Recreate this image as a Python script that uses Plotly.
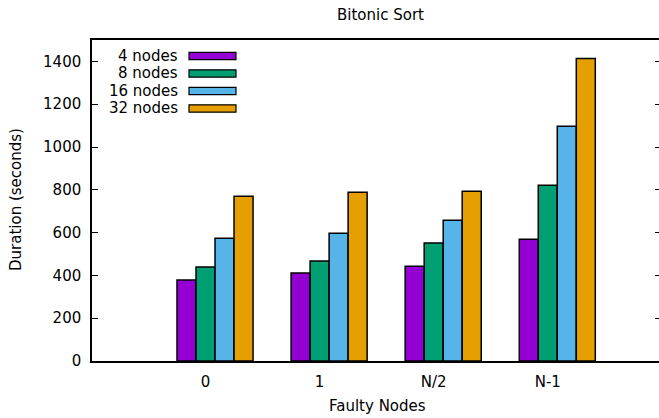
import plotly.graph_objects as go

categories = ["0", "1", "N/2", "N-1"]
series_names = ["4 nodes", "8 nodes", "16 nodes", "32 nodes"]
nodes4 = [378, 411, 443, 569]
nodes8 = [439, 467, 551, 821]
nodes16 = [574, 597, 658, 1097]
nodes32 = [770, 789, 793, 1414]
series_values = [nodes4, nodes8, nodes16, nodes32]
colors = ["#9400D3", "#009E73", "#56B4E9", "#E69F00"]
y_ticks = [0, 200, 400, 600, 800, 1000, 1200, 1400]

FONT = "DejaVu Sans"
FS = 15
bw = 1 / 6
W, H = 659, 418
L, R, T, B = 92, 0, 40, 57
PW, PH = W - L - R, H - T - B

fig = go.Figure()
for i, (name, vals) in enumerate(zip(series_names, series_values)):
    fig.add_trace(go.Bar(
        x=[k + (i - 1) * bw for k in range(len(categories))],
        y=vals,
        width=bw,
        name=name,
        marker=dict(color=colors[i], line=dict(color="black", width=1.5)),
        showlegend=False,
    ))

# dummy trace to activate the mirrored right-hand tick axis
fig.add_trace(go.Scatter(x=[0], y=[0], yaxis="y2", mode="markers",
                         marker=dict(opacity=0), showlegend=False, hoverinfo="skip"))


def px(x):
    return (x - L) / PW


def py(y):
    return 1 - (y - T) / PH


# manual legend (text left of swatch, gnuplot style)
row_y = [56, 73.5, 91, 108.5]
for i, name in enumerate(series_names):
    fig.add_annotation(xref="paper", yref="paper", x=px(180), y=py(row_y[i]),
                       text=name, showarrow=False, xanchor="right", yanchor="middle",
                       font=dict(family=FONT, size=FS, color="black"))
    fig.add_shape(type="rect", xref="paper", yref="paper",
                  x0=px(189), x1=px(236),
                  y0=py(row_y[i] + 3.7), y1=py(row_y[i] - 3.7),
                  fillcolor=colors[i], line=dict(color="black", width=1.2))

fig.add_annotation(xref="paper", yref="paper", x=px(377), y=py(406),
                   text="Faulty Nodes", showarrow=False, xanchor="center", yanchor="middle",
                   font=dict(family=FONT, size=FS, color="black"))
fig.add_annotation(xref="paper", yref="paper", x=px(16), y=py(200),
                   text="Duration (seconds)", showarrow=False, textangle=-90,
                   xanchor="center", yanchor="middle",
                   font=dict(family=FONT, size=FS, color="black"))
fig.add_annotation(xref="paper", yref="paper", x=px(380), y=py(15),
                   text="Bitonic Sort", showarrow=False, xanchor="center", yanchor="middle",
                   font=dict(family=FONT, size=FS, color="black"))

fig.update_layout(
    width=W, height=H,
    margin=dict(l=L, r=R, t=T, b=B, autoexpand=False),
    paper_bgcolor="white", plot_bgcolor="white",
    barmode="overlay",
    font=dict(family=FONT, size=FS, color="black"),
    xaxis=dict(range=[-0.995, 3.975], tickvals=list(range(len(categories))),
               ticktext=categories, ticks="", showgrid=False, zeroline=False,
               showline=True, linecolor="black", linewidth=1.5, mirror=True,
               ticklabelstandoff=6, automargin=False),
    yaxis=dict(range=[0, 1500], tickvals=y_ticks,
               ticks="inside", ticklen=6, tickcolor="black", tickwidth=1,
               showgrid=False, zeroline=False, showline=True, linecolor="black",
               linewidth=1.5, ticklabelstandoff=6, automargin=False),
    yaxis2=dict(range=[0, 1500], overlaying="y", side="right", tickvals=y_ticks,
                ticks="inside", ticklen=4, tickcolor="black", tickwidth=1,
                showticklabels=False, showgrid=False, zeroline=False, showline=False,
                automargin=False),
)

fig.write_html(
    "out.html",
    config={"displayModeBar": False},
    post_script="document.body.style.margin='0';document.body.style.padding='0';",
)
